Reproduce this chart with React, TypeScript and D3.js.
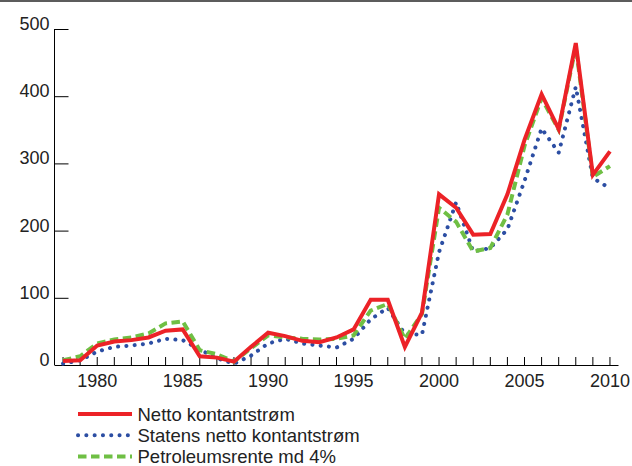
import React from "react";
import * as d3 from "d3";

const years: number[] = d3.range(1978, 2011);

const netto: number[] = [6, 7, 29, 35, 37, 41, 51, 53, 13, 11, 5, 27, 48, 43, 36, 34, 41, 53, 97, 97, 27, 78, 254, 234, 194, 195, 254, 335, 403, 351, 479, 283, 318];
const statens: number[] = [2, 7, 20, 27, 29, 32, 39, 37, 23, 10, 2, 14, 32, 39, 32, 29, 26, 39, 68, 85, 46, 45, 168, 242, 169, 174, 202, 274, 352, 316, 414, 278, 263];
const petro: number[] = [7, 13, 32, 38, 41, 47, 62, 65, 22, 16, 5, 25, 44, 41, 39, 38, 39, 44, 81, 91, 39, 76, 234, 213, 169, 174, 224, 326, 397, 350, 474, 280, 296];

const yTicks: number[] = [0, 100, 200, 300, 400, 500];
const xLabelYears: number[] = [1980, 1985, 1990, 1995, 2000, 2005, 2010];

const seriesNames: string[] = ["Netto kontantstrøm", "Statens netto kontantstrøm", "Petroleumsrente md 4%"];

const RED = "#ec2227";
const BLUE = "#2c4ea3";
const GREEN = "#6fbf44";
const FONT = "'Liberation Sans', Arial, Helvetica, sans-serif";

export default function App() {
  const W = 632, H = 466;
  const x = d3.scaleLinear().domain([1977.5, 2010.5]).range([54.5, 618.5]);
  const y = d3.scaleLinear().domain([0, 500]).range([365, 29]);

  const mk = (vals: number[]) =>
    d3.line<number>().x((_, i) => x(years[i])).y((v) => y(v))(vals) || "";

  const styles = [
    { stroke: RED, width: 4, dash: undefined as string | undefined, cap: "butt" },
    { stroke: BLUE, width: 4, dash: "0.1 8.2", cap: "round" },
    { stroke: GREEN, width: 4, dash: "8.5 4.5", cap: "butt" },
  ];
  const data = [netto, statens, petro];
  const drawOrder = [1, 2, 0];

  return (
    <svg width={W} height={H} style={{ position: "absolute", left: 0, top: 0, background: "#fff" }} fontFamily={FONT}>
      <rect x={0} y={0} width={W} height={2} fill="#5c5c5c" />
      {/* y axis */}
      <line x1={54.5} x2={54.5} y1={y(500)} y2={y(0)} stroke="#000" strokeWidth={1} />
      {yTicks.map((t) => (
        <g key={t}>
          {t > 0 && <line x1={54.5} x2={68.5} y1={y(t) + 0.5} y2={y(t) + 0.5} stroke="#000" strokeWidth={1} />}
          <text x={49.5} y={y(t) + 1} textAnchor="end" fontSize={18} fill="#222">{t}</text>
        </g>
      ))}
      {/* x axis */}
      <line x1={54.5} x2={618.5} y1={y(0) + 0.5} y2={y(0) + 0.5} stroke="#000" strokeWidth={1} />
      {years.map((yr) => (
        <line key={yr} x1={x(yr)} x2={x(yr)} y1={y(0)} y2={y(0) - 8} stroke="#000" strokeWidth={1} />
      ))}
      {xLabelYears.map((yr) => (
        <text key={yr} x={x(yr)} y={y(0) + 22} textAnchor="middle" fontSize={18} fill="#222">{yr}</text>
      ))}
      {/* series */}
      {drawOrder.map((i) => (
        <path key={i} d={mk(data[i])} fill="none" stroke={styles[i].stroke} strokeWidth={styles[i].width}
          strokeDasharray={styles[i].dash} strokeLinecap={styles[i].cap as any} strokeLinejoin="miter" strokeMiterlimit={4} />
      ))}
      {/* legend */}
      {seriesNames.map((name, i) => (
        <g key={name} transform={`translate(0, ${414 + i * 21.3})`}>
          <line x1={78} x2={132} y1={0} y2={0} stroke={styles[i].stroke} strokeWidth={4}
            strokeDasharray={styles[i].dash} strokeLinecap={styles[i].cap as any} />
          <text x={137.5} y={6.5} fontSize={18.5} fill="#222">{name}</text>
        </g>
      ))}
    </svg>
  );
}
